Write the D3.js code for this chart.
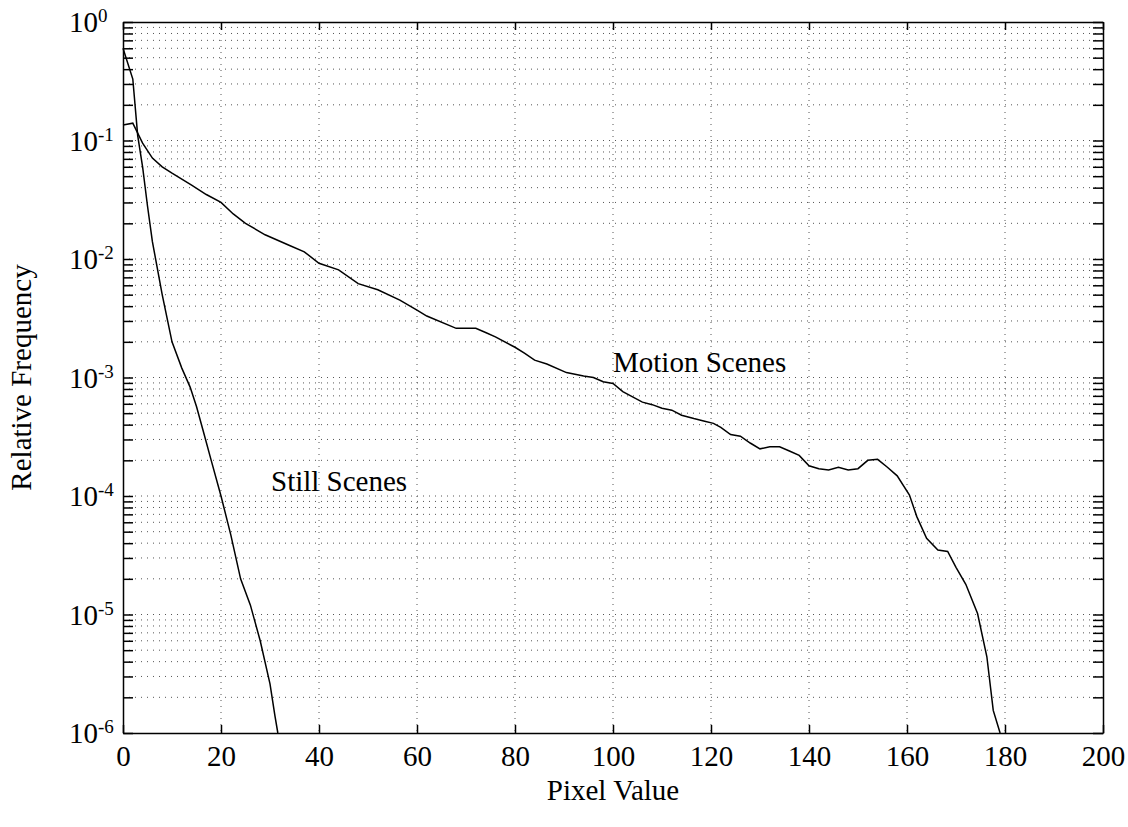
<html lang="en">
  <head>
    <meta charset="UTF-8" />
    <title>Relative Frequency of Pixel Values</title>
    <script src="https://d3js.org/d3.v7.min.js"></script>
  </head>
  <style>
    body {
      margin: 0;
      background: white;
    }

    svg {
      font-family: "Liberation Serif", "Times New Roman", serif;
    }

    .grid line {
      stroke: #555;
      stroke-width: 1px;
      stroke-dasharray: 1, 5;
    }

    .axis path,
    .axis line {
      stroke: black;
      stroke-width: 1.5px;
    }

    .axis text {
      font-family: "Liberation Serif", "Times New Roman", serif;
      font-size: 29px;
      fill: black;
    }

    .curve {
      fill: none;
      stroke: black;
      stroke-width: 1.5px;
    }
  </style>
  <body>
    <svg width="1128" height="827"></svg>
  </body>
  <footer>
    <script>
      // x tick values and y decades (exponents)
      var xTicks = [0, 20, 40, 60, 80, 100, 120, 140, 160, 180, 200];
      var yDecades = [-6, -5, -4, -3, -2, -1, 0];

      // Motion Scenes curve
      var motionX = [0, 2, 4, 6, 8, 10, 14, 17, 20, 22.5, 25, 29, 34, 37, 40, 44,
        48, 52, 56.5, 60, 62, 68, 72, 74, 76, 80, 82, 84, 86.5, 90.5, 94, 96, 98,
        100, 102, 106, 108, 110, 112, 114, 116.5, 118.5, 120.5, 122, 124, 126, 128,
        130, 132, 134, 136, 138, 140, 142, 144, 146, 148, 150, 152, 154, 156, 158,
        160.5, 162, 164, 166.3, 168.3, 170, 172, 174.4, 176.3, 177.6, 179];
      var motionY = [0.135, 0.14, 0.095, 0.071, 0.060, 0.053, 0.042, 0.035, 0.030,
        0.024, 0.020, 0.016, 0.013, 0.0115, 0.0092, 0.0081, 0.0062, 0.0055, 0.0045,
        0.0037, 0.0033, 0.0026, 0.0026, 0.0024, 0.0022, 0.0018, 0.0016, 0.0014,
        0.0013, 0.0011, 0.00103, 0.001, 0.00092, 0.00089, 0.00076, 0.00062, 0.00059,
        0.00055, 0.00053, 0.00048, 0.00045, 0.00043, 0.00041, 0.00038, 0.00033,
        0.00032, 0.00028, 0.00025, 0.00026, 0.00026, 0.00024, 0.00022, 0.00018,
        0.00017, 0.000166, 0.000175, 0.000166, 0.00017, 0.0002, 0.000204, 0.000175,
        0.000148, 0.000102, 0.000067, 0.000044, 0.000035, 0.000034, 0.000025,
        0.000018, 0.0000102, 0.0000044, 0.00000155, 0.000001];

      // Still Scenes curve
      var stillX = [0, 2, 3, 4, 5, 6, 8, 10, 12, 13.7, 15, 16.4, 18, 20, 22, 24, 26, 28, 30, 31, 31.6];
      var stillY = [0.6, 0.33, 0.11, 0.06, 0.028, 0.014, 0.005, 0.002, 0.0012, 0.00083,
        0.00057, 0.00035, 0.0002, 0.0001, 0.000047, 0.00002, 0.000012, 0.000006,
        0.0000026, 0.0000014, 0.000001];

      var plotLeft = 123, plotRight = 1103, plotTop = 22, plotBottom = 733;

      var x = d3.scaleLinear().domain([0, 200]).range([plotLeft, plotRight]);
      var y = d3.scaleLog().domain([1e-6, 1]).range([plotBottom, plotTop]);

      // every 1..9 x 10^k value for minor ticks / grid
      var yMinor = [];
      yDecades.forEach(function (e) {
        for (var m = 1; m <= 9; m++) {
          var v = m * Math.pow(10, e);
          if (v <= 1) yMinor.push(v);
        }
      });

      var svg = d3.select("svg");

      // grid
      var grid = svg.append("g").attr("class", "grid");
      grid.selectAll("line.v")
        .data(xTicks.slice(1, -1))
        .enter()
        .append("line")
        .attr("x1", function (d) { return x(d); })
        .attr("x2", function (d) { return x(d); })
        .attr("y1", plotTop)
        .attr("y2", plotBottom);
      grid.selectAll("line.h")
        .data(yMinor.filter(function (d) { return d > 1e-6 && d < 1; }))
        .enter()
        .append("line")
        .attr("x1", plotLeft)
        .attr("x2", plotRight)
        .attr("y1", function (d) { return y(d); })
        .attr("y2", function (d) { return y(d); });

      // axes
      svg.append("g")
        .attr("class", "axis")
        .attr("transform", "translate(0," + plotBottom + ")")
        .call(d3.axisBottom(x).tickValues(xTicks).tickSize(-8).tickSizeOuter(0).tickPadding(12));

      svg.append("g")
        .attr("class", "axis")
        .attr("transform", "translate(0," + plotTop + ")")
        .call(d3.axisTop(x).tickValues(xTicks).tickSize(-8).tickSizeOuter(0).tickFormat(""));

      svg.append("g")
        .attr("class", "axis")
        .attr("transform", "translate(" + plotLeft + ",0)")
        .call(d3.axisLeft(y).tickValues(yMinor).tickSize(-10).tickSizeOuter(0).tickFormat(""));

      svg.append("g")
        .attr("class", "axis")
        .attr("transform", "translate(" + plotRight + ",0)")
        .call(d3.axisRight(y).tickValues(yMinor).tickSize(-10).tickSizeOuter(0).tickFormat(""));

      // decade labels 10^k
      var lab = svg.append("g")
        .selectAll("text")
        .data(yDecades)
        .enter()
        .append("text")
        .attr("x", 69)
        .attr("y", function (d) { return y(Math.pow(10, d)) + 10; })
        .style("font-size", "29px");
      lab.append("tspan").text("10");
      lab.append("tspan")
        .attr("dy", -10)
        .style("font-size", "19px")
        .text(function (d) { return d; });

      // curves
      var line = d3.line()
        .x(function (d) { return x(d[0]); })
        .y(function (d) { return y(d[1]); });

      svg.append("path")
        .attr("class", "curve")
        .attr("d", line(d3.zip(motionX, motionY)));
      svg.append("path")
        .attr("class", "curve")
        .attr("d", line(d3.zip(stillX, stillY)));

      // annotations
      svg.append("text")
        .attr("x", 613)
        .attr("y", 372)
        .style("font-size", "29px")
        .text("Motion Scenes");
      svg.append("text")
        .attr("x", 271)
        .attr("y", 491)
        .style("font-size", "29px")
        .text("Still Scenes");

      // axis titles
      svg.append("text")
        .attr("x", (plotLeft + plotRight) / 2)
        .attr("y", 800)
        .style("text-anchor", "middle")
        .style("font-size", "29px")
        .text("Pixel Value");
      svg.append("text")
        .attr("transform", "translate(31," + (plotTop + plotBottom) / 2 + ") rotate(-90)")
        .style("text-anchor", "middle")
        .style("font-size", "29px")
        .text("Relative Frequency");
    </script>
  </footer>
</html>
